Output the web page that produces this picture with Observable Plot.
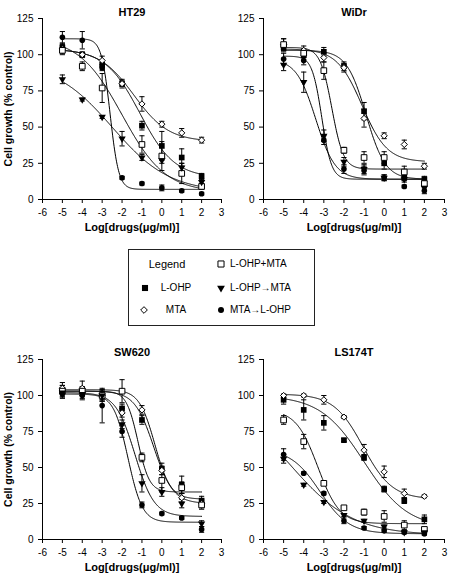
<!DOCTYPE html>
<html>
<head>
<meta charset="utf-8">
<script src="https://cdn.jsdelivr.net/npm/d3@7"></script>
<script src="https://cdn.jsdelivr.net/npm/@observablehq/plot@0.6"></script>
<style>
  body { margin: 0; background: #fff; }
  #root { position: relative; width: 449px; height: 573px; font-family: "Liberation Sans", Arial, sans-serif; color: #000; }
  .panel { position: absolute; }
  #legend { position: absolute; box-sizing: border-box; border: 1px solid #222; background: #fff; }
  .li { position: absolute; font-size: 10px; line-height: 12px; white-space: nowrap; }
</style>
</head>
<body>
<div id="root"></div>
<script>
// ---------- data ----------
const doses = [-5, -4, -3, -2, -1, 0, 1, 2];
const xTicks = [-6, -5, -4, -3, -2, -1, 0, 1, 2, 3];
const yTicks = [0, 25, 50, 75, 100, 125];
const seriesNames = ["L-OHP", "MTA", "L-OHP+MTA", "L-OHP→MTA", "MTA→L-OHP"];
const panelTitles = ["HT29", "WiDr", "SW620", "LS174T"];
const xLabel = "Log[drugs(μg/ml)]";
const yLabel = "Cell growth (% control)";
const legendTitle = "Legend";

// order of rows: L-OHP, MTA, L-OHP+MTA, L-OHP→MTA, MTA→L-OHP
const ht29Means = [
  [105, 100, 93, 80, 51, 37, 29, 16],
  [104, 100, 96, 80, 66, 52, 46, 41],
  [103, 92, 77, null, 38, 30, 18, 9],
  [83, 69, 57, 42, 29, 27, 22, 12],
  [112, 110, 91, 15, 11, 8, 6, 4]
];
const ht29Errors = [
  [3, 1, 3, 3, 3, 10, 6, 2],
  [3, 2, 3, 2, 5, 2, 3, 2],
  [3, 3, 10, 0, 6, 10, 7, 2],
  [3, 1, 1, 5, 2, 2, 3, 2],
  [4, 6, 2, 1, 1, 2, 1, 1]
];
// fitted curves: [top, bottom, logEC50, hill]
const ht29Fits = [
  [104, 15, -1.1, 0.5],
  [104, 40, -1.4, 0.5],
  [112, 5, -2.0, 0.4],
  [95, 5, -2.5, 0.3],
  [111, 7, -2.6, 2.0]
];

const widrMeans = [
  [105, 100, 102, 92, 61, 25, 15, 14],
  [107, 103, 98, 91, 56, 44, 38, 23],
  [107, 101, 89, 34, 29, 29, 19, 11],
  [93, 81, 44, 26, 21, 15, 14, 8],
  [97, 96, 41, 21, 20, 15, 9, 6]
];
const widrErrors = [
  [3, 2, 3, 3, 6, 4, 2, 2],
  [4, 3, 3, 3, 6, 2, 3, 2],
  [4, 3, 6, 2, 4, 4, 4, 2],
  [4, 7, 4, 3, 3, 2, 2, 2],
  [4, 3, 3, 3, 3, 2, 1, 2]
];
const widrFits = [
  [103, 14, -0.9, 0.9],
  [104, 26, -1.1, 0.7],
  [105, 21, -2.6, 1.5],
  [97, 14, -3.4, 0.9],
  [99, 14, -3.1, 1.8]
];

const sw620Means = [
  [104, 103, 100, 91, 83, 49, 38, 27],
  [105, 105, 100, 88, 90, 48, 29, 25],
  [103, 103, 100, 103, 57, 41, 36, 24],
  [102, 101, 100, 80, 39, 33, 25, 11],
  [101, 100, 93, 75, 24, 18, 15, 7]
];
const sw620Errors = [
  [3, 3, 3, 3, 3, 4, 6, 3],
  [4, 5, 4, 3, 3, 3, 3, 3],
  [4, 3, 4, 8, 3, 8, 4, 3],
  [3, 3, 3, 3, 6, 3, 3, 2],
  [3, 3, 12, 4, 2, 1, 1, 2]
];
const sw620Fits = [
  [103, 25, -0.4, 0.9],
  [104, 28, -0.35, 1.1],
  [103, 33, -1.2, 1.5],
  [102, 16, -1.35, 0.9],
  [101, 12, -1.7, 1.2]
];

const ls174tMeans = [
  [97, 90, 81, 69, 57, 35, 27, 14],
  [100, 100, 97, 85, 62, 47, 32, 30],
  [83, 68, 39, 22, 19, 16, 10, 7],
  [56, 38, 26, 17, 13, 9, 5, 5],
  [59, 46, 32, 13, 8, 6, 5, 4]
];
const ls174tErrors = [
  [3, 7, 5, 1, 2, 2, 2, 3],
  [1, 1, 3, 1, 4, 4, 3, 1],
  [3, 5, 1, 1, 2, 4, 3, 1],
  [3, 1, 1, 1, 1, 1, 1, 1],
  [4, 1, 1, 2, 1, 1, 1, 1]
];
const ls174tFits = [
  [100, 8, -1.0, 0.4],
  [101, 28, -1.05, 0.6],
  [90, 11, -3.3, 0.8],
  [100, 3, -4.65, 0.28],
  [63, 4, -3.2, 0.6]
];

// ---------- styles ----------
const triangleDown = {
  draw(context, size) {
    const s = Math.sqrt(size * 4 / Math.sqrt(3));
    const h = s * Math.sqrt(3) / 2;
    context.moveTo(0, h * 2 / 3);
    context.lineTo(s / 2, -h / 3);
    context.lineTo(-s / 2, -h / 3);
    context.closePath();
  }
};
const seriesSymbol = ["square", "diamond2", "square", triangleDown, "circle"];
const seriesFill = ["black", "white", "white", "black", "black"];
const seriesR = [3.2, 2.8, 3.2, 2.7, 2.8];
const fontFamily = "'Liberation Sans', Arial, sans-serif";

const root = document.getElementById("root");

function makePanel(title, means, errors, fits, cfg) {
  const pts = [];
  seriesNames.forEach((s, i) => doses.forEach((x, j) => {
    const y = means[i][j];
    if (y == null) return;
    pts.push({ s, i, x, y, e: errors[i][j] });
  }));
  const xs = d3.range(doses[0], doses[doses.length - 1] + 1e-9, 0.025);
  const curves = [];
  fits.forEach(([top, bottom, c, h], i) => xs.forEach(x => {
    curves.push({ s: seriesNames[i], x, y: bottom + (top - bottom) / (1 + Math.pow(10, h * (x - c))) });
  }));
  const withErr = pts.filter(d => d.e > 0);
  const caps = withErr.flatMap(d => [{ x: d.x, y: d.y - d.e }, { x: d.x, y: d.y + d.e }]);

  const marks = [
    Plot.line(curves, { x: "x", y: "y", z: "s", stroke: "black", strokeWidth: 1 }),
    Plot.ruleX(withErr, { x: "x", y1: d => d.y - d.e, y2: d => d.y + d.e, stroke: "black", strokeWidth: 1 }),
    Plot.link(caps, { x1: d => d.x - 0.13, x2: d => d.x + 0.13, y1: "y", y2: "y", stroke: "black", strokeWidth: 1 }),
    ...seriesNames.map((s, i) => Plot.dot(pts.filter(d => d.i === i), {
      x: "x", y: "y", symbol: seriesSymbol[i], r: seriesR[i],
      fill: seriesFill[i], stroke: seriesFill[i] === "white" ? "black" : "none", strokeWidth: 1
    })),
    Plot.text([title], { text: d => d, frameAnchor: "top", textAnchor: "middle", dy: cfg.titleDy, fontWeight: "bold", fontSize: 11 }),
    Plot.text([xLabel], { text: d => d, frameAnchor: "bottom", textAnchor: "middle", dy: 31, fontWeight: "bold", fontSize: 11 })
  ];
  if (cfg.yLabel) {
    marks.push(Plot.text([yLabel], { text: d => d, frameAnchor: "left", textAnchor: "middle", dx: -34, rotate: -90, fontWeight: "bold", fontSize: 10.5 }));
  }
  const svg = Plot.plot({
    width: cfg.width, height: cfg.height,
    marginLeft: cfg.ml, marginRight: cfg.mr, marginTop: cfg.mt, marginBottom: cfg.mb,
    style: { fontFamily, fontSize: "10px", color: "black", background: "transparent", overflow: "visible" },
    x: { domain: [-6, 3], ticks: xTicks, tickFormat: d => String(d), tickSize: 4, label: null, line: true },
    y: { domain: [0, 125], ticks: yTicks, tickFormat: d => String(d), tickSize: 4, label: null, line: true },
    marks
  });
  svg.classList.add("panel");
  svg.style.left = cfg.left + "px";
  svg.style.top = cfg.top + "px";
  root.appendChild(svg);
}

makePanel(panelTitles[0], ht29Means, ht29Errors, ht29Fits,
  { left: 0, top: 0, width: 224, height: 240, ml: 42, mr: 3, mt: 18, mb: 41, titleDy: -10, yLabel: true });
makePanel(panelTitles[1], widrMeans, widrErrors, widrFits,
  { left: 224, top: 0, width: 225, height: 240, ml: 39, mr: 5, mt: 18, mb: 41, titleDy: -10, yLabel: false });
makePanel(panelTitles[2], sw620Means, sw620Errors, sw620Fits,
  { left: 0, top: 340, width: 224, height: 233, ml: 42, mr: 3, mt: 19, mb: 34, titleDy: -11, yLabel: true });
makePanel(panelTitles[3], ls174tMeans, ls174tErrors, ls174tFits,
  { left: 224, top: 340, width: 225, height: 233, ml: 39, mr: 5, mt: 19, mb: 34, titleDy: -11, yLabel: false });

// ---------- legend ----------
const legend = document.createElement("div");
legend.id = "legend";
Object.assign(legend.style, { left: "128px", top: "249px", width: "187px", height: "77px" });
root.appendChild(legend);

function addText(txt, x, y, anchor, size) {
  const el = document.createElement("div");
  el.className = "li";
  el.textContent = txt;
  el.style.fontSize = (size || 10) + "px";
  el.style.top = (y - 6) + "px";
  if (anchor === "middle") { el.style.left = x + "px"; el.style.transform = "translateX(-50%)"; }
  else el.style.left = x + "px";
  legend.appendChild(el);
}
function addSymbol(i, cx, cy) {
  const size = Math.PI * seriesR[i] * seriesR[i] * 1.15;
  const type = typeof seriesSymbol[i] === "string"
    ? { square: d3.symbolSquare, diamond2: d3.symbolDiamond2, circle: d3.symbolCircle }[seriesSymbol[i]]
    : seriesSymbol[i];
  const svg = d3.create("svg").attr("width", 12).attr("height", 12)
    .style("position", "absolute").style("left", (cx - 6) + "px").style("top", (cy - 6) + "px");
  svg.append("path").attr("transform", "translate(6,6)")
    .attr("d", d3.symbol(type, size)())
    .attr("fill", seriesFill[i]).attr("stroke", seriesFill[i] === "white" ? "black" : "none").attr("stroke-width", 1);
  legend.appendChild(svg.node());
}
// column 1
addText(legendTitle, 38, 14, "middle", 11);
addSymbol(0, 16, 38); addText(seriesNames[0], 47, 38, "middle");
addSymbol(1, 15, 60); addText(seriesNames[1], 47, 60, "middle");
// column 2
addSymbol(2, 92, 14); addText(seriesNames[2], 101, 14);
addSymbol(3, 92, 38); addText(seriesNames[3], 101, 38);
addSymbol(4, 92, 60); addText(seriesNames[4], 101, 60);
</script>
</body>
</html>
